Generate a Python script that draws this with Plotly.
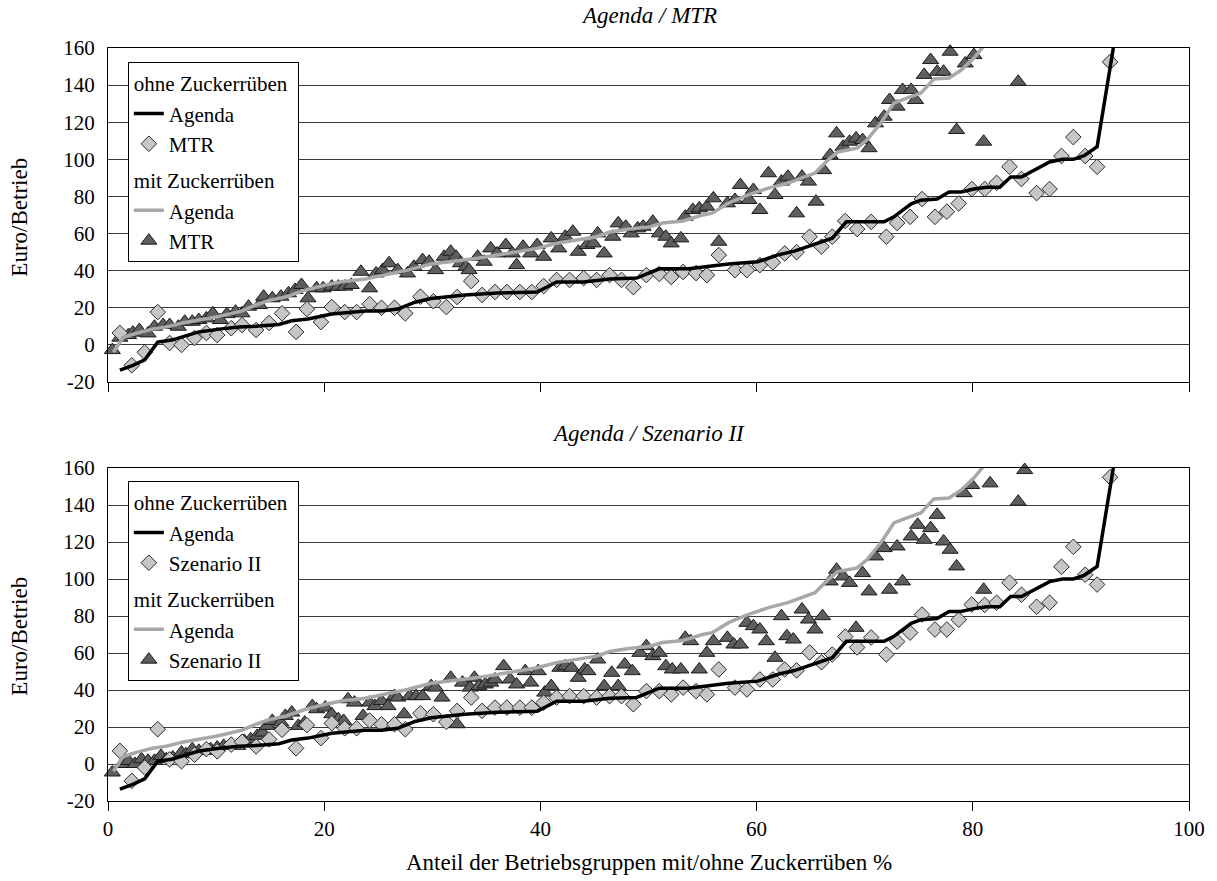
import plotly.graph_objects as go

# ---------------- data ----------------
# Agenda, Betriebe ohne Zuckerrüben (same in both panels)
agenda_ohne_x = [1.1, 2.3, 3.4, 4.6, 5.9, 7.2, 8.4, 10.3, 12.1, 13.7, 15.8, 17.0, 18.5, 20.7, 23.8,
                 25.3, 26.8, 28.4, 29.9, 33.0, 36.0, 39.7, 41.5, 44.0, 46.4, 48.9, 50.0, 51.0, 53.7,
                 55.9, 57.4, 60.1, 62.0, 63.5, 65.7, 67.0, 68.3, 71.8, 72.7, 74.3, 75.2, 76.7, 77.8,
                 78.9, 80.1, 81.3, 82.5, 83.5, 84.5, 85.9, 87.1, 88.3, 89.3, 90.3, 91.5, 93.0]
agenda_ohne_y = [-13.6, -11, -8, 1.5, 2.6, 5, 7, 8.5, 9.6, 10, 11, 13, 14, 16.6, 18.3,
                 18.3, 19.3, 23, 25, 26.9, 28, 28.5, 33.9, 33.9, 35.5, 36, 38.7, 41, 41,
                 42.5, 43.6, 44.8, 48.5, 50.5, 55, 57.5, 66.3, 66.3, 69, 76, 78, 78.6, 82.4,
                 82.4, 84, 85, 85, 90.5, 90.5, 95, 98.6, 100, 100, 102, 106.8, 160]

# Agenda, Betriebe mit Zuckerrüben (same in both panels)
agenda_mit_x = [0.5, 1.4, 2.7, 4.1, 5.4, 6.9, 8.4, 10.0, 11.5, 12.4, 13.7, 14.9, 16.4, 18.3,
                20.1, 21.6, 23.8, 25.6, 27.7, 29.9, 33.0, 34.2, 36.0, 37.8, 39.7, 41.5, 43.3,
                45.2, 46.4, 48.2, 50.0, 51.3, 53.2, 55.0, 55.9, 57.4, 59.2, 61.1, 62.9, 64.2,
                65.4, 66.6, 67.5, 69.3, 70.2, 71.5, 72.7, 73.9, 75.2, 76.4, 77.8, 78.9, 80.1, 81.0]
agenda_mit_y = [-4, 4, 6.4, 8.5, 9.6, 11.8, 13.4, 15, 17, 18.3, 21.5, 24, 25.8, 29.6,
                32.3, 34, 35.5, 37.6, 40.3, 43.6, 45.7, 46.7, 48.4, 50, 52, 54.8, 56.5,
                58.3, 60.8, 62.4, 63.5, 65.7, 66.8, 70, 71, 76.4, 80.8, 84.5, 87.2, 90,
                92.6, 99.6, 104, 106, 110.4, 119.6, 130.3, 133, 135.7, 143.3, 143.8, 148, 154.6, 161]

# ohne Zuckerrüben: share of farm groups (x) for the scenario points
ohne_x = [1.1, 2.2, 3.4, 4.6, 5.7, 6.8, 8.0, 9.1, 10.1, 11.4,
          12.4, 13.7, 14.9, 16.1, 17.4, 18.4, 19.7, 20.7, 21.9, 23.0,
          24.2, 25.3, 26.5, 27.5, 28.9, 30.1, 31.3, 32.3, 33.6, 34.6,
          35.8, 36.9, 38.1, 39.2, 40.3, 41.5, 42.7, 44.0, 45.2, 46.4,
          47.5, 48.6, 49.8, 51.0, 52.1, 53.2, 54.4, 55.4, 56.5, 58.0,
          59.1, 60.3, 61.5, 62.6, 63.7, 64.9, 66.0, 67.0, 68.2, 69.3,
          70.6, 72.0, 73.0, 74.2, 75.3, 76.5, 77.6, 78.7, 79.9, 81.1,
          82.2, 83.4, 84.5, 85.9, 87.1, 88.2, 89.3, 90.4, 91.5, 92.7]
mtr_ohne_y = [6.4, -11, -4, 17.7, 1, 0, 3.7, 6.4, 5.3, 9,
              10.7, 8, 11.8, 17, 7, 19.3, 12.3, 20.4, 17.7, 17.7,
              22, 20, 20, 17, 26, 23.5, 20.4, 25.8, 34.4, 26.9,
              28.5, 28.5, 28.5, 28.5, 31.7, 35, 35, 36, 35, 37.6,
              35, 31.1, 37.6, 38.2, 36.6, 39.3, 38.7, 37.6, 48.4, 40.3,
              40.3, 43, 44.5, 49.3, 50, 58.3, 53, 58.3, 66.8, 62.4,
              66.3, 58.3, 65.7, 69, 78.6, 69, 71.8, 76.2, 84, 84,
              87.3, 96, 89.4, 81.8, 84, 101.8, 112, 101.8, 96, 152.5]
sz2_ohne_y = [7.1, -9.1, -1.9, 18.8, 2.5, 1.5, 5, 8, 6.8, 10.5,
              12, 9.5, 13.3, 18.5, 8.5, 21, 14, 22, 19.3, 19.3,
              23.5, 21.5, 21.5, 18.8, 27.4, 26.9, 22.7, 28.7, 35.9, 28.7,
              30.5, 30.5, 30.5, 30.5, 33.2, 35.9, 36.7, 36.7, 35.9, 36.7,
              36.7, 32.3, 39.4, 39.4, 37.6, 41.3, 39.4, 37.6, 51.1, 41.3,
              40.3, 45.7, 45.7, 51.1, 50.6, 60.3, 55, 59.2, 68.9, 63,
              68.4, 59.2, 66.2, 71, 80.8, 72.7, 72.7, 78, 86.2, 86,
              87.2, 98, 91.5, 85, 87.2, 106.6, 117.4, 102.3, 97, 155]

# MTR, Betriebe mit Zuckerrüben
mtr_mit_x = [0.4, 1.1, 1.9, 2.3, 2.9, 3.7, 4.3, 5.1, 5.7, 6.5, 7.1, 7.8, 8.4, 9.1, 9.7,
             10.4, 11.0, 11.8, 12.4, 13.0, 14.0, 14.4, 15.2, 16.0, 16.7, 17.3, 17.9, 18.5,
             19.3, 19.9, 20.7, 21.3, 21.9, 22.5, 23.4, 24.2, 24.8, 25.4, 26.0,
             26.8, 27.7, 28.3, 29.1, 29.7, 30.3, 31.1, 31.7, 32.2, 32.6, 33.1, 33.4, 34.2,
             34.8, 35.4, 36.0, 36.8, 37.4, 37.8, 38.4, 39.1, 39.7, 40.3, 41.0, 41.7, 42.3,
             43.0, 43.5, 44.3, 44.9, 45.3, 45.9, 46.7, 47.2, 47.9, 48.4, 49.0, 49.5, 50.4,
             51.0, 51.6, 52.1, 53.0, 53.4, 54.1, 54.7, 55.4, 56.0, 56.5, 57.3, 58.0, 58.5,
             59.3, 59.7, 60.3, 61.1, 61.7, 62.3, 62.9,
             63.7, 64.2, 64.8, 65.5, 66.2, 66.8, 67.4, 68.0, 68.6, 69.2, 69.8, 70.4, 71.0,
             71.8, 72.3, 73.0, 73.5, 74.3, 74.7, 75.5, 76.1, 76.7, 77.3, 77.9, 78.5, 79.3,
             80.1, 80.4, 81.0, 84.2]
mtr_mit_y = [-2.8, 3.9, 5.3, 6.6, 8, 6.2, 9.8, 10.7, 10.7, 9.8, 12.5, 12.5, 13.4, 14.3, 17,
             13.4, 16.6, 17.9, 17, 20.6, 21.5, 26, 25.1, 26, 27.8, 29.6, 32.3, 25.1,
             30.5, 30.5, 31.4, 31.4, 31.4, 32.3, 39.4, 30.5, 38.5, 40.3, 44,
             40.3, 38.5, 42.1, 45.7, 44.8, 40.3, 47.5, 50.2, 47.5, 44, 42.1, 40.3, 47.5,
             44.8, 52, 49.3, 53.8, 49.3, 43, 52.9, 49.3, 53.8, 47.5, 57.4, 52, 58.3,
             61, 50.2, 53.8, 54.7, 60.1, 49.3, 58.3, 65.5, 63.7, 60.1, 62.8, 63.7, 66.4,
             60.1, 58.3, 54.7, 57.4, 69.1, 72.7, 73.6, 74.5, 79, 55.6, 76.3, 78.1, 86.2,
             78.1, 83.5, 72.7, 92.5, 80.8, 88, 90.6,
             70.9, 90.6, 88, 77.2, 94.2, 102.3, 114, 106.8, 109.5, 111.3, 110.4, 106, 119.4,
             123, 132, 128.4, 137.4, 137.4, 132, 145.5, 153.5, 147.2, 147.2, 158, 115.8, 151.7,
             156.2, 162.5, 109.5, 141.8]

# Szenario II, Betriebe mit Zuckerrüben
sz2_mit_x = [0.4, 1.3, 1.9, 2.5, 3.1, 3.7, 4.3, 4.9, 5.4, 6.0, 6.8, 7.2, 7.8, 8.4, 9.1,
             9.5, 10.1, 10.7, 11.4, 12.0, 12.6, 13.2, 13.8, 14.3, 14.7, 15.2, 16.0, 16.4,
             17.0, 17.6, 18.2, 18.9, 19.3, 20.1, 20.7, 21.3, 21.8, 22.2, 22.8, 23.6, 24.2,
             24.7, 25.3, 25.9, 26.5,
             26.8, 27.4, 27.9, 28.5, 29.1, 29.9, 30.3, 30.9, 31.7, 32.3, 32.8, 33.5, 33.9,
             34.3, 34.9, 35.4, 35.8, 36.6, 37.2, 37.8, 38.6, 39.1, 39.8, 40.4, 41.0, 41.8,
             42.3, 42.9, 43.5, 44.1, 44.4, 45.3, 45.9, 46.6, 47.2, 47.8, 48.5, 49.2, 49.8,
             50.4, 51.0, 51.6, 52.2, 53.0, 53.4, 53.9, 54.7, 55.4, 56.0, 57.3, 57.9, 58.5,
             59.1, 59.7, 60.3, 60.9, 61.7, 62.3, 62.8, 63.4,
             64.2, 64.8, 65.4, 66.1, 66.8, 67.4, 68.0, 68.6, 69.2, 69.8, 70.4, 71.0, 71.8,
             72.3, 73.0, 73.5, 74.3, 74.9, 75.5, 76.1, 76.7, 77.3, 77.9, 78.5, 79.2, 79.9,
             80.5, 81.0, 81.6, 82.2, 82.8, 83.6, 84.2, 84.8]
sz2_mit_y = [-4.6, 0, 1.7, 0, 2.6, 1.7, 1.7, 4.4, 2.6, 3.5, 6.2, 5.3, 8, 7.1, 7.1,
             8, 8.9, 9.8, 10.7, 9.8, 12.5, 13.4, 15.2, 17, 20.6, 23.3, 22.4, 26,
             27.8, 20.6, 22.4, 31.3, 29.6, 30.5, 26.9, 24.2, 23.3, 35, 33.2, 26, 33.2,
             31.3, 34, 31.3, 36.7,
             35.9, 26.9, 36.7, 36.7, 36.7, 42.1, 41.3, 35.9, 46.6, 21.5, 44, 41.3, 46.6,
             42.1, 43, 44, 45.7, 52.9, 45.7, 43, 50.2, 44, 50.2, 38.6, 42.1, 52,
             52.9, 52, 46.6, 51.1, 50.2, 56.5, 42.1, 49.3, 42.1, 53.8, 50.2, 60.1, 63.7,
             58.3, 60.1, 52.9, 51.1, 51.1, 68.2, 66.4, 51.1, 60.1, 66.4, 68.2, 64.6, 64.6,
             76.3, 74.5, 72.7, 66.4, 57.4, 79.9, 69.1, 67.3,
             83.5, 78.1, 72.7, 79.9, 98.7, 105, 101.4, 97.9, 73.6, 103.2, 93.3, 112.2, 116.7,
             94.2, 117.6, 98.7, 123, 129.3, 121.2, 127.5, 134.7, 120.3, 115.8, 106.8, 146.4, 150.8,
             161.6, 94.2, 151.7, 164.3, 164.3, 165.2, 141.8, 158.9]

x_ticks = [0, 20, 40, 60, 80, 100]
y_ticks = [-20, 0, 20, 40, 60, 80, 100, 120, 140, 160]
y_tick_text = ["-20", "0", "20", "40", "60", "80", "100", "120", "140", "160"]

# ---------------- styling ----------------
FONT = "'Liberation Serif', 'DejaVu Serif', serif"
FS = 21        # tick labels and legend
FS_TITLE = 23  # panel titles and axis titles
DIAMOND_FILL = "#C6C6C6"
TRIANGLE_FILL = "#5E5E5E"
GRAY_LINE = "#A8A8A8"

fig = go.Figure()


def add_panel(xa, ya, legend_name, scen_name, ohne_y, mit_x, mit_y):
    # scenario markers first, Agenda lines drawn over them
    fig.add_trace(go.Scatter(
        x=mit_x, y=mit_y, mode="markers", name=scen_name,
        xaxis=xa, yaxis=ya, legend=legend_name, legendgroup="mit" + legend_name,
        legendrank=4, cliponaxis=False,
        marker=dict(symbol="triangle-up", size=14, color=TRIANGLE_FILL,
                    line=dict(color="#1a1a1a", width=1))))
    fig.add_trace(go.Scatter(
        x=ohne_x, y=ohne_y, mode="markers", name=scen_name,
        xaxis=xa, yaxis=ya, legend=legend_name, legendgroup="ohne" + legend_name,
        legendrank=2, cliponaxis=False,
        marker=dict(symbol="diamond", size=12, color=DIAMOND_FILL,
                    line=dict(color="#2a2a2a", width=1))))
    fig.add_trace(go.Scatter(
        x=agenda_mit_x, y=agenda_mit_y, mode="lines", name="Agenda",
        xaxis=xa, yaxis=ya, legend=legend_name, legendgroup="mit" + legend_name,
        legendgrouptitle=dict(text="mit Zuckerrüben", font=dict(family=FONT, size=FS)),
        legendrank=3, line=dict(color=GRAY_LINE, width=3.5)))
    fig.add_trace(go.Scatter(
        x=agenda_ohne_x, y=agenda_ohne_y, mode="lines", name="Agenda",
        xaxis=xa, yaxis=ya, legend=legend_name, legendgroup="ohne" + legend_name,
        legendgrouptitle=dict(text="ohne Zuckerrüben", font=dict(family=FONT, size=FS)),
        legendrank=1, line=dict(color="#000000", width=3.5)))


add_panel("x", "y", "legend", "MTR", mtr_ohne_y, mtr_mit_x, mtr_mit_y)
add_panel("x2", "y2", "legend2", "Szenario II", sz2_ohne_y, sz2_mit_x, sz2_mit_y)

W, H = 1217, 881
ML, MR, MT, MB = 108, 20, 48, 80
plot_h = H - MT - MB


def py(pixel_y):
    return (H - MB - pixel_y) / plot_h


def px(pixel_x):
    return (pixel_x - ML) / (W - ML - MR)


xaxis_common = dict(range=[0, 100], tickvals=x_ticks, ticks="outside", ticklen=9,
                    tickcolor="#000", tickwidth=1, showline=True, linecolor="#000",
                    linewidth=1, mirror=True, showgrid=False, zeroline=False,
                    tickfont=dict(family=FONT, size=FS, color="#000"))
yaxis_common = dict(range=[-20, 160], tickvals=y_ticks, ticktext=y_tick_text, ticks="",
                    showline=True, linecolor="#000", linewidth=1, mirror=True,
                    showgrid=True, gridcolor="#3a3a3a", gridwidth=1, zeroline=False,
                    ticklabelstandoff=8,
                    tickfont=dict(family=FONT, size=FS, color="#000"))

legend_common = dict(xanchor="left", yanchor="top", bgcolor="#FFFFFF",
                     bordercolor="#000", borderwidth=1, tracegroupgap=6,
                     font=dict(family=FONT, size=FS, color="#000"),
                     itemwidth=30)

fig.update_layout(
    width=W, height=H,
    margin=dict(l=ML, r=MR, t=MT, b=MB),
    paper_bgcolor="#FFFFFF", plot_bgcolor="#FFFFFF",
    font=dict(family=FONT, size=FS, color="#000"),
    xaxis=dict(anchor="y", showticklabels=False, **xaxis_common),
    yaxis=dict(anchor="x", domain=[py(382), 1.0], **yaxis_common),
    xaxis2=dict(anchor="y2", showticklabels=True, **xaxis_common),
    yaxis2=dict(anchor="x2", domain=[0.0, py(468)], **yaxis_common),
    legend=dict(x=px(128), y=py(62), **legend_common),
    legend2=dict(x=px(128), y=py(481), **legend_common),
    annotations=[
        dict(text="<i>Agenda / MTR</i>", xref="paper", yref="paper", x=0.5, y=py(15),
             showarrow=False, yanchor="middle", font=dict(family=FONT, size=FS_TITLE)),
        dict(text="<i>Agenda / Szenario II</i>", xref="paper", yref="paper", x=0.5, y=py(433),
             showarrow=False, yanchor="middle", font=dict(family=FONT, size=FS_TITLE)),
        dict(text="Euro/Betrieb", xref="paper", yref="paper", x=px(18), y=py(217),
             textangle=-90, showarrow=False, xanchor="center", yanchor="middle",
             font=dict(family=FONT, size=FS_TITLE)),
        dict(text="Euro/Betrieb", xref="paper", yref="paper", x=px(18), y=py(636),
             textangle=-90, showarrow=False, xanchor="center", yanchor="middle",
             font=dict(family=FONT, size=FS_TITLE)),
        dict(text="Anteil der Betriebsgruppen mit/ohne Zuckerrüben %", xref="paper",
             yref="paper", x=0.5, y=py(862), showarrow=False, yanchor="middle",
             font=dict(family=FONT, size=FS_TITLE)),
    ],
)

fig.write_html("out.html")
